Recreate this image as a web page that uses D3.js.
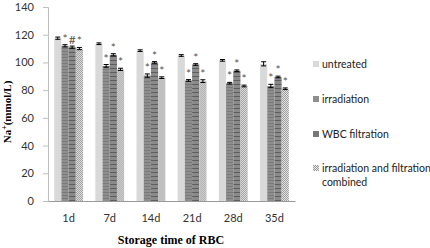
<!DOCTYPE html>
<html>
<head>
<meta charset="utf-8">
<script src="https://cdn.jsdelivr.net/npm/d3@7"></script>
<style>
body { margin: 0; background: #fff; }
</style>
</head>
<body>
<script>
var wd = 430, ht = 248

var days = ["1d", "7d", "14d", "21d", "28d", "35d"]
var groups = ["untreated", "irradiation", "WBC filtration", "irradiation and filtration combined"]
var untreated = [117.5, 113.5, 108.5, 105, 101.5, 99]
var irradiation = [112, 97.5, 90.5, 87, 85, 83]
var wbcFiltration = [111, 105.5, 100, 98.5, 94, 89.5]
var combined = [110, 95, 89, 86.5, 83, 81]
var errUntreated = [0.8, 0.6, 0.6, 0.6, 0.6, 1.5]
var errIrradiation = [0.8, 1, 1.2, 0.6, 0.6, 1.2]
var errWbc = [0.8, 0.8, 0.6, 0.6, 0.6, 0.6]
var errCombined = [0.8, 0.8, 0.6, 1, 0.6, 0.6]
var marks = [["", "*", "#", "*"], ["", "*", "*", "*"], ["", "*", "*", "*"], ["", "*", "*", "*"], ["", "*", "*", "*"], ["", "*", "*", "*"]]
var yTicks = [0, 20, 40, 60, 80, 100, 120, 140]

var seriesVals = [untreated, irradiation, wbcFiltration, combined]
var seriesErr = [errUntreated, errIrradiation, errWbc, errCombined]

var svgCont = d3.select("body").append("svg")
.attr("width", wd)
.attr("height", ht)

var defs = svgCont.append("defs")

// horizontal stripe fill for irradiation
var p1 = defs.append("pattern").attr("id", "pIrr").attr("patternUnits", "userSpaceOnUse")
.attr("width", 4).attr("height", 3)
p1.append("rect").attr("width", 4).attr("height", 3).attr("fill", "#8e8e8e")
p1.append("rect").attr("width", 4).attr("height", 1).attr("fill", "#7a7a7a")

// darker stripes for WBC filtration
var p2 = defs.append("pattern").attr("id", "pWbc").attr("patternUnits", "userSpaceOnUse")
.attr("width", 4).attr("height", 4)
p2.append("rect").attr("width", 4).attr("height", 4).attr("fill", "#8a8a8a")
p2.append("rect").attr("width", 4).attr("height", 1).attr("fill", "#5e5e5e")

// checker fill for combined
var p3 = defs.append("pattern").attr("id", "pComb").attr("patternUnits", "userSpaceOnUse")
.attr("width", 2).attr("height", 2)
p3.append("rect").attr("width", 2).attr("height", 2).attr("fill", "#e6e6e6")
p3.append("rect").attr("width", 1).attr("height", 1).attr("fill", "#9a9a9a")
p3.append("rect").attr("x", 1).attr("y", 1).attr("width", 1).attr("height", 1).attr("fill", "#9a9a9a")

var fills = ["#d9d9d9", "url(#pIrr)", "url(#pWbc)", "url(#pComb)"]
var legFills = ["#d9d9d9", "#8e8e8e", "#777777", "url(#pComb)"]

var plotL = 48, plotR = 295, plotT = 7, plotB = 201

var x = d3.scaleBand().domain(days).range([plotL, plotR]).paddingInner(0.3).paddingOuter(0.15)
var xs = d3.scaleBand().domain(d3.range(4)).range([0, x.bandwidth()])
var y = d3.scaleLinear().domain([0, 140]).range([plotB, plotT])

// y axis
var yAxis = svgCont.append("g").attr("transform", "translate(" + plotL + ",0)")
.call(d3.axisLeft(y).tickValues(yTicks).tickSize(5).tickPadding(9))
yAxis.select(".domain").attr("stroke", "#bfbfbf")
yAxis.selectAll(".tick line").attr("stroke", "#bfbfbf")
yAxis.selectAll("text").attr("font-family", "Lato, 'Open Sans', sans-serif").attr("font-size", 11).attr("fill", "#333")

// bars
days.forEach(function(d, i) {
  var g = svgCont.append("g").attr("transform", "translate(" + x(d) + ",0)")
  seriesVals.forEach(function(s, j) {
    var v = s[i], e = seriesErr[j][i]
    var bx = xs(j), bw = xs.bandwidth()
    g.append("rect")
    .attr("x", bx).attr("y", y(v))
    .attr("width", bw).attr("height", y(0) - y(v))
    .attr("fill", fills[j])
    var cx = bx + bw / 2
    g.append("path")
    .attr("d", "M" + cx + "," + y(v + e) + "V" + y(v - e) +
      "M" + (cx - 2.5) + "," + y(v + e) + "H" + (cx + 2.5) +
      "M" + (cx - 2.5) + "," + y(v - e) + "H" + (cx + 2.5))
    .attr("stroke", "#000").attr("stroke-width", 1).attr("fill", "none")
    if (marks[i][j]) {
      g.append("text")
      .attr("x", cx).attr("y", y(v + e) - 2)
      .attr("text-anchor", "middle")
      .attr("font-family", "Lato, sans-serif").attr("font-size", 12)
      .attr("fill", "#555")
      .text(marks[i][j])
    }
  })
})

// x axis
var xAxis = svgCont.append("g").attr("transform", "translate(0," + plotB + ")")
.call(d3.axisBottom(x).tickSize(0).tickPadding(13))
xAxis.select(".domain").attr("stroke", "#9a9a9a")
xAxis.selectAll("text").attr("font-family", "Lato, 'Open Sans', sans-serif").attr("font-size", 11).attr("fill", "#333")

// titles
svgCont.append("text")
.attr("x", 171).attr("y", 244)
.attr("text-anchor", "middle")
.attr("font-family", "'Liberation Serif', 'DejaVu Serif', serif")
.attr("font-weight", "bold").attr("font-size", 12)
.text("Storage time of RBC")

var yt = svgCont.append("text")
.attr("transform", "translate(11,112) rotate(-90)")
.attr("text-anchor", "middle")
.attr("font-family", "'Liberation Serif', 'DejaVu Serif', serif")
.attr("font-weight", "bold").attr("font-size", 11)
yt.append("tspan").text("Na")
yt.append("tspan").attr("dy", -4).attr("font-size", 8).text("+")
yt.append("tspan").attr("dy", 4).text("(mmol/L)")

// legend
var legY = [65, 100, 135, 169]
groups.forEach(function(gname, j) {
  svgCont.append("rect")
  .attr("x", 313).attr("y", legY[j] - 4)
  .attr("width", 6).attr("height", 6)
  .attr("fill", legFills[j])
  var t = svgCont.append("text")
  .attr("x", 322).attr("y", legY[j] + 3)
  .attr("font-family", "Lato, 'Open Sans', sans-serif").attr("font-size", 10.5)
  .attr("fill", "#222")
  if (j == 3) {
    t.append("tspan").attr("x", 322).text("irradiation and filtration")
    t.append("tspan").attr("x", 322).attr("dy", 14).text("combined")
  } else {
    t.text(gname)
  }
})
</script>
</body>
</html>
